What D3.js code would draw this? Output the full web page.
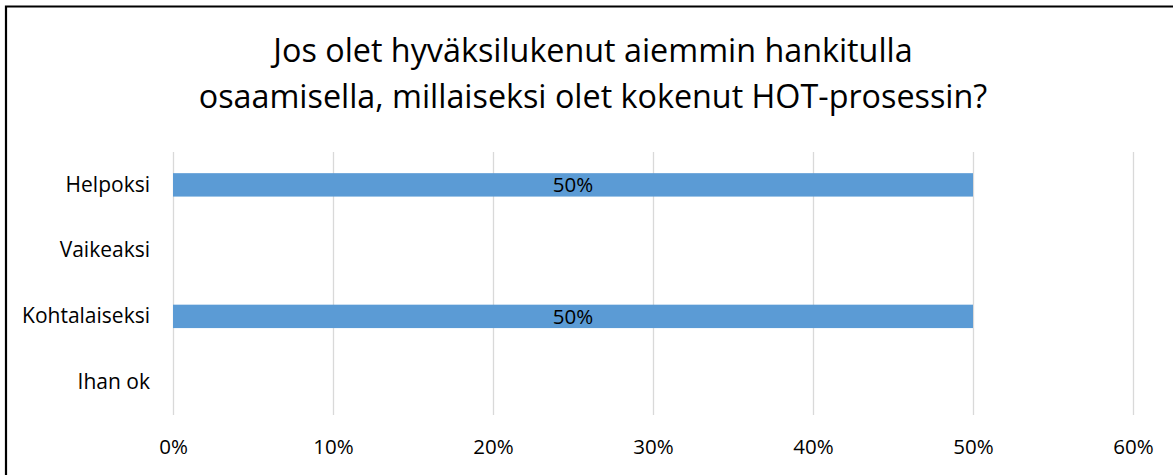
<!DOCTYPE html>
<html>
<head>
<meta charset="utf-8">
<script src="https://cdn.jsdelivr.net/npm/d3@7"></script>
<style>
  body { margin: 0; background: #fff; }
  svg { display: block; }
  text { font-family: "Open Sans", sans-serif; fill: #000; }
</style>
</head>
<body>
<script>
document.body.style.overflow = 'hidden';

// the data
const titleLines = [
    "Jos olet hyväksilukenut aiemmin hankitulla",
    "osaamisella, millaiseksi olet kokenut HOT-prosessin?"
];
const categories = ["Helpoksi", "Vaikeaksi", "Kohtalaiseksi", "Ihan ok"];
const values = [0.5, 0, 0.5, 0];
const xTicks = [0, 0.1, 0.2, 0.3, 0.4, 0.5, 0.6];

const width = 1173;
const height = 475;
const margin = {top: 152, right: 40, bottom: 60, left: 173};

const svg = d3.select("body")
    .append("svg")
    .attr("width", width)
    .attr("height", height);

// frame (only top and left edges show in the picture)
svg.append("path")
    .attr("d", `M6,${height} V6.5 H${width}`)
    .attr("fill", "none")
    .attr("stroke", "#000")
    .attr("stroke-width", 2.2);

// title
svg.append("g")
    .selectAll("text")
    .data(titleLines)
    .join("text")
    .attr("x", 593)
    .attr("y", (d, i) => 62 + i * 45.5)
    .attr("text-anchor", "middle")
    .attr("font-size", 32.3)
    .text(d => d);

// scales
const x = d3.scaleLinear()
    .domain([0, 0.6])
    .range([margin.left, width - margin.right]);

const y = d3.scaleBand()
    .domain(categories)
    .range([margin.top, height - margin.bottom])
    .paddingInner(0.644)
    .paddingOuter(0.322);

// gridlines
svg.append("g")
    .selectAll("line")
    .data(xTicks)
    .join("line")
    .attr("x1", d => Math.round(x(d)) + 0.5)
    .attr("x2", d => Math.round(x(d)) + 0.5)
    .attr("y1", margin.top)
    .attr("y2", height - margin.bottom)
    .attr("stroke", "#d9d9d9")
    .attr("stroke-width", 1.3);

// x axis labels
const xAxis = svg.append("g")
    .attr("transform", `translate(0, ${height - margin.bottom})`)
    .call(d3.axisBottom(x).tickValues(xTicks).tickFormat(d3.format(".0%")).tickSize(0).tickPadding(24));
xAxis.select(".domain").remove();
xAxis.selectAll("text")
    .attr("font-size", 20.5)
    .attr("font-family", "Open Sans, sans-serif")
    .attr("fill", "#000");

// y axis labels
const yAxis = svg.append("g")
    .attr("transform", `translate(${margin.left}, 0)`)
    .call(d3.axisLeft(y).tickSize(0).tickPadding(23));
yAxis.select(".domain").remove();
yAxis.selectAll("text")
    .attr("font-size", 21)
    .attr("font-family", "Open Sans, sans-serif")
    .attr("fill", "#000");

// bars
const bars = categories.map((c, i) => ({category: c, value: values[i]}));

svg.append("g")
    .selectAll("rect")
    .data(bars.filter(d => d.value > 0))
    .join("rect")
    .attr("x", x(0))
    .attr("y", d => y(d.category))
    .attr("width", d => x(d.value) - x(0))
    .attr("height", y.bandwidth())
    .attr("fill", "#5b9bd5");

// data labels in the middle of each bar
svg.append("g")
    .selectAll("text")
    .data(bars.filter(d => d.value > 0))
    .join("text")
    .attr("x", d => (x(0) + x(d.value)) / 2)
    .attr("y", d => y(d.category) + y.bandwidth() / 2)
    .attr("dy", "0.35em")
    .attr("text-anchor", "middle")
    .attr("font-size", 20.5)
    .text(d => d3.format(".0%")(d.value));
</script>
</body>
</html>
